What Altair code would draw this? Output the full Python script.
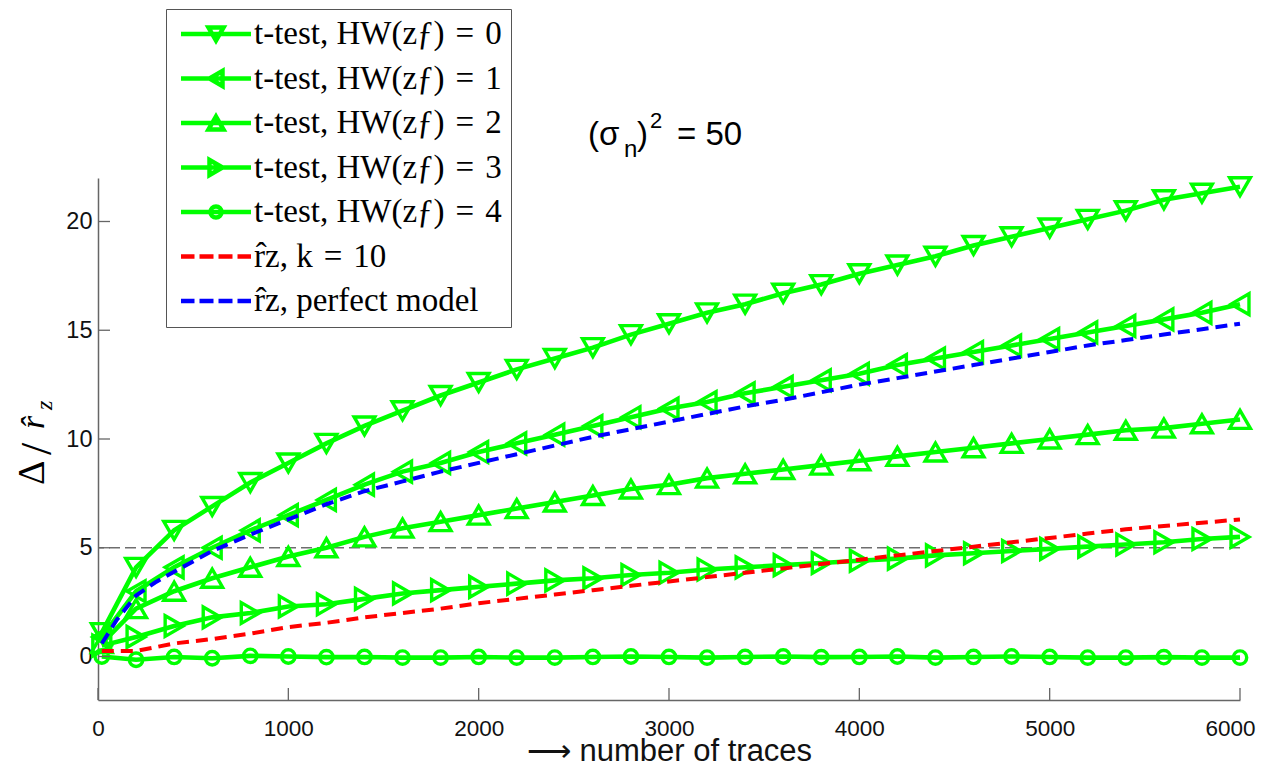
import altair as alt
import pandas as pd

# ---------------- data ----------------
x_pts = [20, 200, 400, 600, 800, 1000, 1200, 1400, 1600, 1800, 2000, 2200, 2400, 2600,
         2800, 3000, 3200, 3400, 3600, 3800, 4000, 4200, 4400, 4600, 4800, 5000, 5200,
         5400, 5600, 5800, 6000]
x_blue = [20, 100, 200, 300, 400, 600, 800, 1000, 1200, 1400, 1600, 1800, 2000, 2200,
          2400, 2600, 2800, 3000, 3200, 3400, 3600, 3800, 4000, 4200, 4400, 4600, 4800,
          5000, 5200, 5400, 5600, 5800, 6000]

hw0 = [1.1, 4.1, 5.8, 6.9, 8.0, 8.9, 9.8, 10.6, 11.3, 12.0, 12.6, 13.2, 13.7, 14.2, 14.8,
       15.3, 15.8, 16.2, 16.7, 17.1, 17.6, 18.0, 18.4, 18.9, 19.3, 19.7, 20.1, 20.5, 21.0,
       21.3, 21.6]
hw1 = [0.9, 3.0, 4.1, 5.0, 5.8, 6.5, 7.2, 7.9, 8.5, 8.9, 9.4, 9.8, 10.2, 10.6, 11.0,
       11.4, 11.7, 12.1, 12.4, 12.7, 13.0, 13.4, 13.7, 14.0, 14.3, 14.6, 14.9, 15.2, 15.5,
       15.8, 16.2]
hw2 = [0.6, 2.2, 3.0, 3.6, 4.1, 4.6, 5.0, 5.5, 5.9, 6.2, 6.5, 6.8, 7.1, 7.4, 7.7, 7.9,
       8.2, 8.4, 8.6, 8.8, 9.0, 9.2, 9.4, 9.6, 9.8, 10.0, 10.2, 10.4, 10.5, 10.7, 10.9]
hw3 = [0.5, 0.9, 1.4, 1.8, 2.0, 2.3, 2.4, 2.65, 2.9, 3.05, 3.2, 3.35, 3.5, 3.6, 3.75,
       3.85, 4.0, 4.1, 4.2, 4.3, 4.4, 4.5, 4.65, 4.75, 4.85, 4.95, 5.05, 5.15, 5.25, 5.4,
       5.5]
hw4 = [0.0, -0.15, -0.02, -0.08, 0.03, 0.0, -0.03, -0.02, -0.05, -0.05, -0.02, -0.05,
       -0.05, -0.02, 0.0, -0.02, -0.05, -0.02, 0.0, -0.03, -0.02, 0.0, -0.05, -0.02, 0.0,
       -0.02, -0.05, -0.05, -0.03, -0.05, -0.05]
r_k10 = [0.25, 0.25, 0.6, 0.8, 1.05, 1.35, 1.55, 1.8, 2.0, 2.2, 2.45, 2.65, 2.85, 3.05,
         3.25, 3.45, 3.65, 3.85, 4.05, 4.25, 4.45, 4.65, 4.85, 5.05, 5.25, 5.45, 5.65,
         5.85, 6.0, 6.15, 6.3]
r_perfect = [0.6, 1.7, 2.8, 3.4, 3.9, 4.85, 5.6, 6.3, 7.0, 7.6, 8.05, 8.5, 8.9, 9.3, 9.7,
             10.1, 10.45, 10.8, 11.15, 11.5, 11.8, 12.15, 12.5, 12.8, 13.1, 13.4, 13.7,
             14.0, 14.3, 14.55, 14.8, 15.05, 15.3]

series_names = [
    "t-test, HW(zƒ)\u2004=\u20040",
    "t-test, HW(zƒ)\u2004=\u20041",
    "t-test, HW(zƒ)\u2004=\u20042",
    "t-test, HW(zƒ)\u2004=\u20043",
    "t-test, HW(zƒ)\u2004=\u20044",
    "r̂z, k\u2004=\u200410",
    "r̂z, perfect model",
]
series_colors = ["#00ff00"] * 5 + ["#ff0000", "#0000ff"]
marker_shapes = ["triangle-down", "triangle-left", "triangle-up", "triangle-right", "circle"]
marker_sizes = [430, 430, 430, 430, 180]

x_ticks = [0, 1000, 2000, 3000, 4000, 5000, 6000]
y_ticks = [0, 5, 10, 15, 20]
threshold = [5]

rows = []
for name, ys in zip(series_names[:5], [hw0, hw1, hw2, hw3, hw4]):
    for xv, yv in zip(x_pts, ys):
        rows.append({"series": name, "x": xv, "y": yv})
df_t = pd.DataFrame(rows)
rows = []
for xv, yv in zip(x_pts, r_k10):
    rows.append({"series": series_names[5], "x": xv, "y": yv})
for xv, yv in zip(x_blue, r_perfect):
    rows.append({"series": series_names[6], "x": xv, "y": yv})
df_r = pd.DataFrame(rows)

# ---------------- legend symbols (line + marker) ----------------
legend_paths = [
    "M -1 0 L 6 0 M 1.75 -0.65 L 3.25 -0.65 L 2.5 0.65 Z",
    "M -1 0 L 6 0 M 1.85 0 L 3.15 -0.75 L 3.15 0.75 Z",
    "M -1 0 L 6 0 M 2.5 -0.65 L 3.25 0.65 L 1.75 0.65 Z",
    "M -1 0 L 6 0 M 3.15 0 L 1.85 -0.75 L 1.85 0.75 Z",
    "M -1 0 L 6 0 M 3.05 0 A 0.55 0.55 0 1 1 1.95 0 A 0.55 0.55 0 1 1 3.05 0 Z",
    "M -1 0 L 0.35 0 M 0.85 0 L 2.25 0 M 2.75 0 L 4.15 0 M 4.65 0 L 6 0",
    "M -1 0 L 0.35 0 M 0.85 0 L 2.25 0 M 2.75 0 L 4.15 0 M 4.65 0 L 6 0",
]

legend = alt.Legend(
    title=None, orient="none", legendX=68, legendY=-169,
    padding=8.5, rowPadding=10.5, symbolSize=400, symbolStrokeWidth=4.5,
    symbolOpacity=1, symbolFillColor="transparent",
    labelOffset=46.5, labelFont="Liberation Serif", labelFontSize=33, labelColor="black",
    labelLimit=450, strokeColor="#555555", fillColor="white", cornerRadius=0,
)

PLOT_W, PLOT_H = 1142, 522
xs = alt.Scale(domain=[0, 6000], nice=False, zero=False)
ys_ = alt.Scale(domain=[-2, 22], nice=False, zero=False)
xaxis = alt.Axis(values=x_ticks, format="d", ticks=False, tickSize=0, grid=False,
                 domainColor="#666666", domainWidth=1.5, labelFont="Liberation Sans",
                 labelFontSize=22.5, labelColor="#111111", labelPadding=17, labelFlush=False,
                 labelAlign={"condition": {"test": "datum.value == 6000", "value": "right"},
                             "value": "center"},
                 labelOffset={"condition": {"test": "datum.value == 6000", "value": 15},
                              "value": 0},
                 title="⟶ number of traces", titleFont="Liberation Sans", titleFontSize=31,
                 titleFontWeight="normal", titleColor="#111111", titleX=571, titleY=60,
                 titleBaseline="alphabetic", titleAnchor="middle")
yaxis = alt.Axis(values=y_ticks, ticks=False, tickSize=0, grid=False, domainColor="#666666",
                 domainWidth=1.5, labelFont="Liberation Sans", labelFontSize=23.5,
                 labelColor="#111111", labelPadding=6, labelFlush=False, title=None)

xenc = alt.X("x:Q", scale=xs, axis=xaxis)
yenc = alt.Y("y:Q", scale=ys_, axis=yaxis)
cscale = alt.Scale(domain=series_names, range=series_colors)
cenc = alt.Color("series:N", scale=cscale, legend=legend)

thr = alt.Chart(pd.DataFrame({"y": threshold})).mark_rule(
    color="#6e6e6e", strokeWidth=1.3, strokeDash=[11, 5]).encode(y=yenc)

solid = alt.Chart(df_t).mark_line(strokeWidth=4.6).encode(x=xenc, y=yenc, color=cenc)

pts_layers = []
for name, shp, sz, col in zip(series_names[:5], marker_shapes, marker_sizes, series_colors):
    pts_layers.append(
        alt.Chart(df_t).transform_filter(alt.datum.series == name).mark_point(
            shape=shp, size=sz, filled=False, strokeWidth=3.4, opacity=1, color=col
        ).encode(x=xenc, y=yenc)
    )

dashed = alt.Chart(df_r).mark_line(strokeWidth=4, strokeDash=[12, 7]).encode(
    x=xenc, y=yenc, color=cenc)

# legend-only layer (draws nothing; the scales have explicit domains)
leg_layer = alt.Chart(df_t).transform_filter("false").mark_point(
    filled=False, strokeWidth=4.5, opacity=1, size=400).encode(
    x=xenc, y=yenc, color=cenc,
    shape=alt.Shape("series:N", scale=alt.Scale(domain=series_names, range=legend_paths),
                    legend=legend),
)

xt = alt.Chart(pd.DataFrame({"x": x_ticks})).mark_rule(color="#666666", strokeWidth=1.3).encode(
    x=xenc, y=alt.value(PLOT_H), y2=alt.value(PLOT_H - 12))
yt = alt.Chart(pd.DataFrame({"y": y_ticks})).mark_rule(color="#666666", strokeWidth=1.3).encode(
    y=yenc, x=alt.value(0), x2=alt.value(12))

one = pd.DataFrame({"a": [0]})


def txt(s, px, py, size, font="Liberation Sans", style="normal", angle=0):
    return alt.Chart(one).mark_text(align="left", baseline="alphabetic", font=font,
                                    fontSize=size, fontStyle=style, color="black",
                                    angle=angle).encode(
        x=alt.value(px), y=alt.value(py), text=alt.value(s))


title_parts = [
    txt("(σ", 490, -33, 33),
    txt("n", 526, -21, 24),
    txt(")", 539, -33, 33),
    txt("2", 552, -50, 22),
    txt("= 50", 579, -33, 33),
]
ylab_parts = [
    txt("Δ", -54, 307, 38, font="Liberation Serif", angle=270),
    txt("/", -47, 277, 44, font="Liberation Serif", angle=270),
    txt("r̂", -54, 251, 34, font="Liberation Serif", style="italic", angle=270),
    txt("z", -46, 232, 24, font="Liberation Serif", style="italic", angle=270),
]

chart = alt.layer(thr, solid, *pts_layers, dashed, leg_layer, xt, yt,
                  *title_parts, *ylab_parts).properties(
    width=PLOT_W, height=PLOT_H,
    padding={"left": 90, "top": 170, "right": 16, "bottom": 61},
    autosize=alt.AutoSizeParams(type="none"),
).configure_view(stroke=None)

chart.save("out.html", embed_options={"renderer": "svg", "actions": False})
